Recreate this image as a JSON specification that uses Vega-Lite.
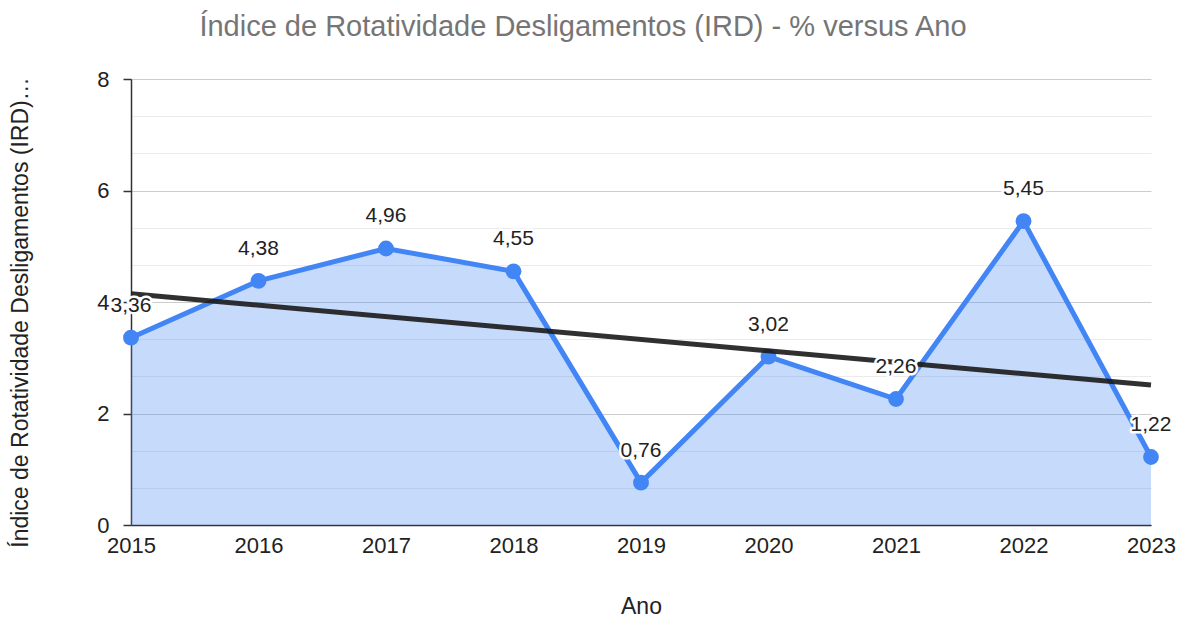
{
  "$schema": "https://vega.github.io/schema/vega-lite/v6.json",
  "width": 1020,
  "height": 446,
  "autosize": "none",
  "padding": {"left": 131, "top": 79, "right": 40, "bottom": 93},
  "background": "white",
  "config": {
    "view": {"stroke": null},
    "font": "Liberation Sans",
    "locale": {"number": {"decimal": ",", "thousands": ".", "grouping": [3], "currency": ["R$", ""]}}
  },
  "title": {
    "text": "Índice de Rotatividade Desligamentos (IRD) - % versus Ano",
    "fontSize": 29,
    "fontWeight": "normal",
    "color": "#757575",
    "anchor": "middle",
    "baseline": "alphabetic",
    "offset": 3,
    "dx": -58
  },
  "data": {
    "values": [
      {"Ano": 2015, "IRD": 3.36},
      {"Ano": 2016, "IRD": 4.38},
      {"Ano": 2017, "IRD": 4.96},
      {"Ano": 2018, "IRD": 4.55},
      {"Ano": 2019, "IRD": 0.76},
      {"Ano": 2020, "IRD": 3.02},
      {"Ano": 2021, "IRD": 2.26},
      {"Ano": 2022, "IRD": 5.45},
      {"Ano": 2023, "IRD": 1.22}
    ]
  },
  "encoding": {
    "x": {
      "field": "Ano",
      "type": "quantitative",
      "scale": {"domain": [2015, 2023], "nice": false, "zero": false},
      "axis": {
        "title": "Ano",
        "titleFontSize": 23,
        "titleFontWeight": "normal",
        "titleColor": "#222222",
        "titleBaseline": "middle",
        "titleY": 81,
        "values": [2015, 2016, 2017, 2018, 2019, 2020, 2021, 2022, 2023],
        "format": "d",
        "labelFontSize": 22,
        "labelColor": "#222222",
        "labelPadding": 10,
        "labelFlush": false,
        "labelOverlap": false,
        "ticks": false,
        "grid": false,
        "domainColor": "#333333",
        "domainWidth": 1.5
      }
    },
    "y": {
      "field": "IRD",
      "type": "quantitative",
      "scale": {"domain": [0, 8], "nice": false},
      "axis": {
        "title": "Índice de Rotatividade Desligamentos (IRD)…",
        "titleFontSize": 23,
        "titleFontWeight": "normal",
        "titleColor": "#222222",
        "titleX": -111,
        "titleY": 233,
        "titleAlign": "center",
        "titleBaseline": "middle",
        "values": [0, 0.6667, 1.3333, 2, 2.6667, 3.3333, 4, 4.6667, 5.3333, 6, 6.6667, 7.3333, 8],
        "labelExpr": "datum.value % 2 === 0 ? format(datum.value, 'd') : ''",
        "labelFontSize": 22,
        "labelColor": "#222222",
        "labelPadding": 14,
        "tickSize": 8,
        "tickColor": {"condition": {"test": "datum.value % 2 === 0", "value": "#333333"}, "value": "transparent"},
        "tickWidth": 1.5,
        "gridColor": {"condition": {"test": "datum.value % 2 === 0", "value": "#cccccc"}, "value": "#ebebeb"},
        "gridWidth": 1,
        "domainColor": "#333333",
        "domainWidth": 1.5
      }
    }
  },
  "layer": [
    {"mark": {"type": "area", "color": "#4285F4", "opacity": 0.3}},
    {"mark": {"type": "line", "color": "#4285F4", "strokeWidth": 5}},
    {"mark": {"type": "point", "filled": true, "size": 250, "color": "#4285F4", "opacity": 1}},
    {
      "transform": [{"regression": "IRD", "on": "Ano"}],
      "mark": {"type": "line", "color": "#1a1a1a", "strokeWidth": 5, "opacity": 0.9}
    },
    {
      "mark": {"type": "text", "fontSize": 21, "baseline": "alphabetic", "dy": -26, "stroke": "white", "strokeWidth": 5, "strokeJoin": "round", "fill": "white"},
      "encoding": {"text": {"field": "IRD", "type": "quantitative", "format": ".2f"}}
    },
    {
      "mark": {"type": "text", "fontSize": 21, "baseline": "alphabetic", "dy": -26, "color": "#222222"},
      "encoding": {"text": {"field": "IRD", "type": "quantitative", "format": ".2f"}}
    }
  ]
}
